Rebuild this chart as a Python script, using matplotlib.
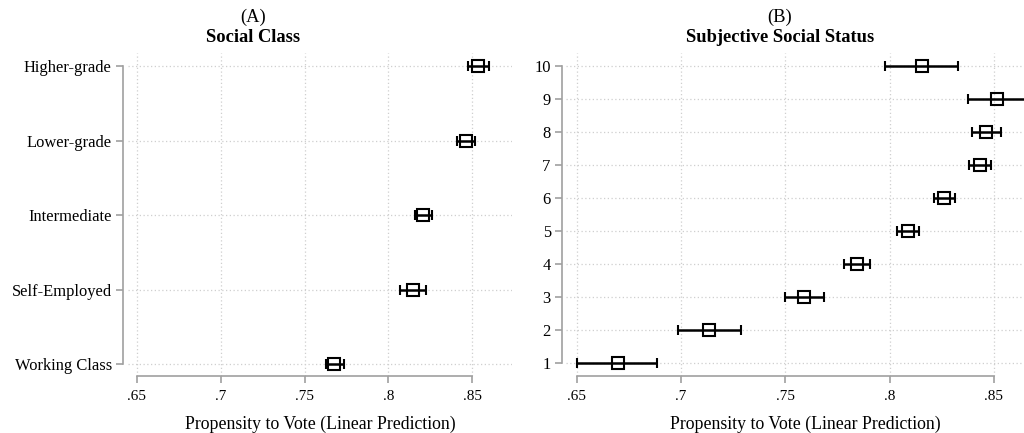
import matplotlib
matplotlib.use("Agg")
import matplotlib.pyplot as plt
import numpy as np

# Panel A data
class_labels = ["Working Class", "Self-Employed", "Intermediate", "Lower-grade", "Higher-grade"]
class_est = [0.7677, 0.8147, 0.8207, 0.8464, 0.8536]
class_lo = [0.7626, 0.8072, 0.8158, 0.8411, 0.8473]
class_hi = [0.7736, 0.8224, 0.8261, 0.8520, 0.8602]

# Panel B data
status_levels = [1, 2, 3, 4, 5, 6, 7, 8, 9, 10]
status_est = [0.6696, 0.7135, 0.7591, 0.7842, 0.8088, 0.8262, 0.8433, 0.8463, 0.8513, 0.8155]
status_lo = [0.6503, 0.6987, 0.7500, 0.7780, 0.8034, 0.8214, 0.8381, 0.8393, 0.8374, 0.7977]
status_hi = [0.6886, 0.7286, 0.7686, 0.7906, 0.8143, 0.8312, 0.8488, 0.8535, 0.8652, 0.8330]

xticks = [0.65, 0.70, 0.75, 0.80, 0.85]
xticklabels = [".65", ".7", ".75", ".8", ".85"]
xlabel = "Propensity to Vote (Linear Prediction)"

plt.rcParams["font.family"] = ["Liberation Serif", "DejaVu Serif"]

W, H = 1024, 433
fig = plt.figure(figsize=(W / 100, H / 100), dpi=100)

def px_axes(l, r, t, b):
    return fig.add_axes([l / W, (H - b) / H, (r - l) / W, (b - t) / H])

axA = px_axes(128, 512, 53, 376)
axB = px_axes(566, 1044, 53, 376)

spine_col = "#a0a0a0"
grid_col = "#cfcfcf"
fs_y = 11.9
fs_x = 11.0
fs_lab = 12.8
fs_t = 13.3

def style(ax, xlim, yticks, yticklabels, ylo, yhi, left_out):
    for s in ["top", "right"]:
        ax.spines[s].set_visible(False)
    ax.spines["left"].set_position(("outward", left_out))
    ax.spines["left"].set_bounds(yticks[0], yticks[-1])
    ax.spines["bottom"].set_bounds(xticks[0], xticks[-1])
    for s in ["left", "bottom"]:
        ax.spines[s].set_color(spine_col)
        ax.spines[s].set_linewidth(1.2)
    ax.set_xlim(*xlim)
    ax.set_ylim(ylo, yhi)
    ax.set_xticks(xticks)
    ax.set_xticklabels(xticklabels)
    ax.set_yticks(yticks)
    ax.set_yticklabels(yticklabels)
    ax.grid(True, color=grid_col, linestyle=(0, (1, 2)), linewidth=0.9)
    ax.set_axisbelow(True)
    ax.tick_params(axis="both", color=spine_col, width=1.2, length=5, labelcolor="black")
    ax.tick_params(axis="y", pad=3, labelsize=fs_y)
    ax.tick_params(axis="x", pad=5, labelsize=fs_x)
    ax.set_xlabel(xlabel, fontsize=fs_lab, labelpad=9)

def draw(ax, est, lo, hi, ypos):
    est = np.array(est); lo = np.array(lo); hi = np.array(hi)
    ax.errorbar(est, ypos, xerr=[est - lo, hi - est], fmt="s", ms=8.5,
                mfc="none", mec="black", mew=1.5, ecolor="black",
                elinewidth=1.8, capsize=3.8, capthick=2.2, zorder=3)

ypA = np.arange(len(class_labels))
draw(axA, class_est, class_lo, class_hi, ypA)
style(axA, (0.64464, 0.8738), list(ypA), class_labels, -0.16, 4.175, 3.6)

draw(axB, status_est, status_lo, status_hi, status_levels)
style(axB, (0.6449, 0.8740), status_levels, [str(v) for v in status_levels], 0.606, 10.39, 3.0)

fig.text(253 / W, 1 - 17 / H, "(A)", ha="center", va="center", fontsize=fs_t)
fig.text(253 / W, 1 - 38 / H, "Social Class", ha="center", va="center", fontsize=fs_t, fontweight="bold")
fig.text(780 / W, 1 - 17 / H, "(B)", ha="center", va="center", fontsize=fs_t)
fig.text(780 / W, 1 - 38 / H, "Subjective Social Status", ha="center", va="center", fontsize=fs_t, fontweight="bold")

fig.savefig("out.png", dpi=100)
